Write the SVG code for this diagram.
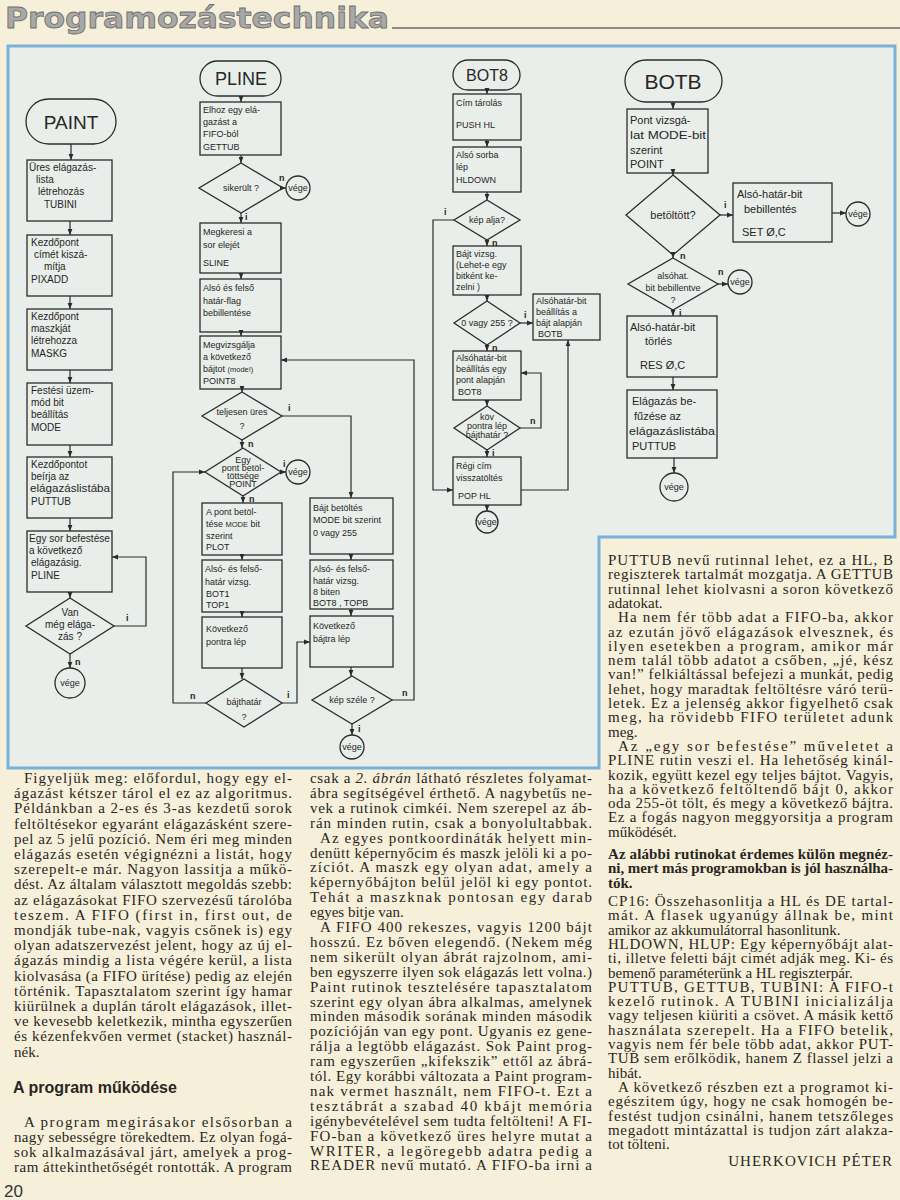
<svg xmlns="http://www.w3.org/2000/svg" width="900" height="1200" viewBox="0 0 900 1200">
<defs>
<marker id="ah" viewBox="0 0 10 10" refX="10" refY="5" markerWidth="6" markerHeight="6" markerUnits="userSpaceOnUse" orient="auto"><path d="M0,1 L10,5 L0,9 z" fill="#2b2b2b"/></marker>
<style>
.bx{fill:none;stroke:#2b2b2b;stroke-width:1.3}
.ln{fill:none;stroke:#2b2b2b;stroke-width:1.2;marker-end:url(#ah)}
.t{font-family:"Liberation Sans","DejaVu Sans",sans-serif;font-size:9px;fill:#262626}
.tp{font-family:"Liberation Sans","DejaVu Sans",sans-serif;font-size:10px;fill:#262626}
.tb{font-family:"Liberation Sans","DejaVu Sans",sans-serif;font-size:11px;fill:#262626}
.c{text-anchor:middle}
.lb{font-family:"Liberation Sans",sans-serif;font-size:9px;font-weight:bold;fill:#262626}
.ti{font-family:"Liberation Sans",sans-serif;fill:#262626;text-anchor:middle}
.body{font-family:"Liberation Serif","Times New Roman",serif;font-size:15px;fill:#2a2622}
.bold{font-weight:bold}
</style>
</defs>
<rect x="0" y="0" width="900" height="1200" fill="#f6f0da"/>
<!-- header -->
<text x="5" y="28" font-family="DejaVu Sans, sans-serif" font-weight="bold" font-size="28" fill="#a8a8a6" stroke="#707070" stroke-width="0.8" textLength="384" lengthAdjust="spacingAndGlyphs">Programozástechnika</text>
<line x1="392" y1="28" x2="900" y2="28" stroke="#8c8c8a" stroke-width="2.2"/>
<!-- panel -->
<path d="M8,46 H895 V537 H599 V768 H8 Z" fill="#e9eeea" stroke="#78b2d8" stroke-width="3"/>

<!-- PAINT -->
<g id="paint-start"><rect class="bx" x="26" y="99" width="90" height="45" rx="22.5"/><text class="ti" x="71" y="129" font-size="19">PAINT</text></g>
<g id="paint-tubini"><rect class="bx" x="27" y="160" width="85" height="61"/><text class="tp" x="29" y="171">Üres elágazás-</text><text class="tp" x="36" y="183">lista</text><text class="tp" x="38" y="195">létrehozás</text><text class="tp" x="44" y="208">TUBINI</text></g>
<g id="paint-pixadd"><rect class="bx" x="27" y="235" width="85" height="61"/><text class="tp" x="31" y="246">Kezdőpont</text><text class="tp" x="34" y="258">címét kiszá-</text><text class="tp" x="44" y="270">mítja</text><text class="tp" x="31" y="283">PIXADD</text></g>
<g id="paint-maskg"><rect class="bx" x="27" y="309" width="85" height="61"/><text class="tp" x="31" y="320">Kezdőpont</text><text class="tp" x="31" y="332">maszkját</text><text class="tp" x="31" y="344">létrehozza</text><text class="tp" x="31" y="357">MASKG</text></g>
<g id="paint-mode"><rect class="bx" x="27" y="383" width="85" height="62"/><text class="tp" x="31" y="394">Festési üzem-</text><text class="tp" x="31" y="406">mód bit</text><text class="tp" x="31" y="418">beállítás</text><text class="tp" x="31" y="431">MODE</text></g>
<g id="paint-puttub"><rect class="bx" x="27" y="457" width="85" height="61"/><text class="tp" x="31" y="468">Kezdőpontot</text><text class="tp" x="31" y="480">beírja az</text><text class="tp" x="30" y="492" textLength="80" lengthAdjust="spacingAndGlyphs">elágazáslistába</text><text class="tp" x="31" y="505">PUTTUB</text></g>
<g id="paint-pline"><rect class="bx" x="27" y="531" width="85" height="61"/><text class="tp" x="29" y="542" textLength="81" lengthAdjust="spacingAndGlyphs">Egy sor befestése</text><text class="tp" x="29" y="554">a következő</text><text class="tp" x="31" y="566">elágazásig.</text><text class="tp" x="31" y="579">PLINE</text></g>
<g id="paint-van"><path class="bx" d="M70,598 L114,626 L70,654 L26,626 Z"/><text class="tp c" x="70" y="616">Van</text><text class="tp c" x="70" y="628">még elága-</text><text class="tp c" x="70" y="640">zás ?</text></g>
<g id="paint-vege"><circle class="bx" cx="70" cy="683" r="15"/><text class="t c" x="70" y="686">vége</text></g>

<!-- PLINE -->
<g id="pline-start"><rect class="bx" x="200" y="61" width="81" height="35" rx="17.5"/><text class="ti" x="241" y="85" font-size="18">PLINE</text></g>
<g id="pline-gettub"><rect class="bx" x="200" y="102" width="81" height="53"/><text class="t" x="203" y="113">Elhoz egy elá-</text><text class="t" x="203" y="125">gazást a</text><text class="t" x="203" y="137" font-size="8">FIFO-ból</text><text class="t" x="203" y="150">GETTUB</text></g>
<g id="pline-sikerult"><path class="bx" d="M241,163 L283,188 L241,213 L199,188 Z"/><text class="t c" x="241" y="191">sikerült ?</text></g>
<g id="pline-vege1"><circle class="bx" cx="298" cy="188" r="12"/><text class="t c" x="298" y="191">vége</text></g>
<g id="pline-sline"><rect class="bx" x="200" y="223" width="81" height="50"/><text class="t" x="203" y="235">Megkeresi a</text><text class="t" x="203" y="248">sor elejét</text><text class="t" x="203" y="266">SLINE</text></g>
<g id="pline-flag"><rect class="bx" x="200" y="279" width="81" height="53"/><text class="t" x="203" y="291">Alsó és felső</text><text class="t" x="203" y="304">határ-flag</text><text class="t" x="203" y="316">bebillentése</text></g>
<g id="pline-point8"><rect class="bx" x="200" y="336" width="81" height="53"/><text class="t" x="203" y="348">Megvizsgálja</text><text class="t" x="203" y="360">a következő</text><text class="t" x="203" y="372">bájtot <tspan font-size="7.5">(mode!)</tspan></text><text class="t" x="203" y="384">POINT8</text></g>
<g id="pline-ures"><path class="bx" d="M242,392 L282,416 L242,440 L202,416 Z"/><text class="t c" x="242" y="415">teljesen üres</text><text class="t c" x="242" y="429">?</text></g>
<g id="pline-egypont"><path class="bx" d="M243,448 L281,472 L243,496 L205,472 Z"/><text class="t c" x="243" y="463" font-size="8">Egy</text><text class="t c" x="243" y="471" font-size="7.5">pont betöl-</text><text class="t c" x="243" y="479" font-size="7">töttsége</text><text class="t c" x="243" y="487" font-size="6.5">POINT</text></g>
<g id="pline-vege2"><circle class="bx" cx="298" cy="472" r="12"/><text class="t c" x="298" y="475">vége</text></g>
<g id="pline-plot"><rect class="bx" x="202" y="503" width="80" height="52"/><text class="t" x="206" y="515">A pont betöl-</text><text class="t" x="206" y="527">tése <tspan font-size="7.5">MODE</tspan> bit</text><text class="t" x="206" y="539">szerint</text><text class="t" x="206" y="550">PLOT</text></g>
<g id="pline-bot1"><rect class="bx" x="202" y="560" width="80" height="52"/><text class="t" x="205" y="572">Alsó- és felső-</text><text class="t" x="205" y="585">határ vizsg.</text><text class="t" x="206" y="597">BOT1</text><text class="t" x="206" y="608">TOP1</text></g>
<g id="pline-kovpont"><rect class="bx" x="202" y="617" width="80" height="51"/><text class="t" x="206" y="632">Következő</text><text class="t" x="206" y="645">pontra lép</text></g>
<g id="pline-bajthatar"><path class="bx" d="M244,679 L282,703 L244,727 L206,703 Z"/><text class="t c" x="244" y="705">bájthatár</text><text class="t c" x="244" y="720">?</text></g>
<g id="pline-bajtbet"><rect class="bx" x="310" y="498" width="83" height="56"/><text class="t" x="313" y="511">Bájt betöltés</text><text class="t" x="313" y="523" font-size="7.5">MODE bit szerint</text><text class="t" x="313" y="536">0 vagy 255</text></g>
<g id="pline-bot8"><rect class="bx" x="310" y="560" width="83" height="49"/><text class="t" x="313" y="572">Alsó- és felső-</text><text class="t" x="313" y="584">határ vizsg.</text><text class="t" x="313" y="595">8 biten</text><text class="t" x="313" y="606">BOT8 , TOPB</text></g>
<g id="pline-kovbajt"><rect class="bx" x="310" y="616" width="83" height="51"/><text class="t" x="313" y="629">Következő</text><text class="t" x="313" y="642">bájtra lép</text></g>
<g id="pline-kepszele"><path class="bx" d="M352,676 L392,700 L352,724 L312,700 Z"/><text class="t c" x="352" y="703">kép széle ?</text></g>
<g id="pline-vege3"><circle class="bx" cx="352" cy="747" r="12"/><text class="t c" x="352" y="750">vége</text></g>

<!-- BOT8 -->
<g id="bot8-start"><rect class="bx" x="453" y="60" width="67" height="30" rx="15"/><text class="ti" x="487" y="81" font-size="16">BOT8</text></g>
<g id="bot8-push"><rect class="bx" x="453" y="94" width="68" height="46"/><text class="t" x="456" y="106" font-size="8.5">Cím tárolás</text><text class="t" x="456" y="128" font-size="8">PUSH HL</text></g>
<g id="bot8-hldown"><rect class="bx" x="453" y="147" width="68" height="45"/><text class="t" x="456" y="158" font-size="8.5">Alsó sorba</text><text class="t" x="456" y="170" font-size="8.5">lép</text><text class="t" x="456" y="183" font-size="8">HLDOWN</text></g>
<g id="bot8-kepalja"><path class="bx" d="M487,200 L520,220 L487,240 L454,220 Z"/><text class="t c" x="487" y="223" font-size="8.5">kép alja?</text></g>
<g id="bot8-bajtvizsg"><rect class="bx" x="453" y="246" width="68" height="49"/><text class="t" x="456" y="257" font-size="8">Bájt vizsg.</text><text class="t" x="456" y="268" font-size="8">(Lehet-e egy</text><text class="t" x="456" y="279" font-size="8">bitként ke-</text><text class="t" x="456" y="290" font-size="8">zelni )</text></g>
<g id="bot8-0v255"><path class="bx" d="M487,301 L520,323 L487,345 L454,323 Z"/><text class="t c" x="487" y="326" font-size="8">0 vagy 255 ?</text></g>
<g id="bot8-botb"><rect class="bx" x="533" y="294" width="67" height="46"/><text class="t" x="536" y="304" font-size="8">Alsóhatár-bit</text><text class="t" x="536" y="315" font-size="8">beállítás a</text><text class="t" x="536" y="326" font-size="8">bájt alapján</text><text class="t" x="538" y="337" font-size="8">BOTB</text></g>
<g id="bot8-bot8"><rect class="bx" x="453" y="351" width="68" height="49"/><text class="t" x="456" y="361" font-size="8">Alsóhatár-bit</text><text class="t" x="456" y="372" font-size="8">beállítás egy</text><text class="t" x="456" y="383" font-size="8">pont alapján</text><text class="t" x="458" y="395" font-size="8">BOT8</text></g>
<g id="bot8-kov"><path class="bx" d="M487,406 L520,428 L487,450 L454,428 Z"/><text class="t c" x="487" y="420" font-size="7">köv</text><text class="t c" x="487" y="429" font-size="7">pontra lép</text><text class="t c" x="487" y="438" font-size="7">bájthatár ?</text></g>
<g id="bot8-pop"><rect class="bx" x="453" y="457" width="68" height="48"/><text class="t" x="456" y="469" font-size="8.5">Régi cím</text><text class="t" x="456" y="481" font-size="8.5">visszatöltés</text><text class="t" x="458" y="499" font-size="8">POP HL</text></g>
<g id="bot8-vege"><circle class="bx" cx="487" cy="522" r="11"/><text class="t c" x="487" y="525" font-size="8">vége</text></g>

<!-- BOTB -->
<g id="botb-start"><rect class="bx" x="625" y="60" width="97" height="42" rx="21"/><text class="ti" x="673" y="89" font-size="21">BOTB</text></g>
<g id="botb-point"><rect class="bx" x="627" y="109" width="81" height="64"/><text class="tb" x="630" y="124">Pont vizsgá-</text><text class="tb" x="630" y="139" textLength="76" lengthAdjust="spacingAndGlyphs">lat MODE-bit</text><text class="tb" x="630" y="154">szerint</text><text class="tb" x="630" y="168">POINT</text></g>
<g id="botb-betoltott"><path class="bx" d="M673,175 L720,215 L673,255 L626,215 Z"/><text class="tb c" x="673" y="219">betöltött?</text></g>
<g id="botb-set"><rect class="bx" x="733" y="183" width="99" height="59"/><text class="tb" x="737" y="198">Alsó-határ-bit</text><text class="tb" x="744" y="213">bebillentés</text><text class="tb" x="742" y="236">SET Ø,C</text></g>
<g id="botb-vege1"><circle class="bx" cx="858" cy="214" r="12"/><text class="t c" x="858" y="217">vége</text></g>
<g id="botb-alsohat"><path class="bx" d="M673,258 L718,284 L673,310 L628,284 Z"/><text class="t c" x="673" y="279" font-size="9.5">alsóhat.</text><text class="t c" x="673" y="291">bit bebillentve</text><text class="t c" x="673" y="303">?</text></g>
<g id="botb-vege2"><circle class="bx" cx="740" cy="282" r="12"/><text class="t c" x="740" y="285">vége</text></g>
<g id="botb-res"><rect class="bx" x="627" y="316" width="90" height="61"/><text class="tb" x="630" y="331">Alsó-határ-bit</text><text class="tb" x="645" y="345">törlés</text><text class="tb" x="640" y="369">RES Ø,C</text></g>
<g id="botb-puttub"><rect class="bx" x="627" y="390" width="90" height="68"/><text class="tb" x="632" y="405">Elágazás be-</text><text class="tb" x="634" y="420">fűzése az</text><text class="tb" x="629" y="435" textLength="86" lengthAdjust="spacingAndGlyphs">elágazáslistába</text><text class="tb" x="632" y="450">PUTTUB</text></g>
<g id="botb-vege3"><circle class="bx" cx="674" cy="487" r="14"/><text class="t c" x="674" y="490">vége</text></g>

<!-- connectors -->
<g id="connectors">
<path class="ln" d="M71,144 V160"/><path class="ln" d="M70,221 V235"/><path class="ln" d="M70,296 V309"/><path class="ln" d="M70,370 V383"/><path class="ln" d="M70,445 V457"/><path class="ln" d="M70,518 V531"/><path class="ln" d="M70,592 V598"/>
<path class="ln" d="M114,626 H146 V557 H112"/><path class="ln" d="M70,654 V668"/>
<path class="ln" d="M241,96 V102"/><path class="ln" d="M241,155 V163"/><path class="ln" d="M283,188 H286"/><path class="ln" d="M241,213 V223"/><path class="ln" d="M241,273 V279"/><path class="ln" d="M241,332 V336"/><path class="ln" d="M242,389 V392"/>
<path class="ln" d="M282,416 H351 V498"/><path class="ln" d="M242,440 V448"/><path class="ln" d="M281,472 H286"/><path class="ln" d="M243,496 V503"/><path class="ln" d="M242,555 V560"/><path class="ln" d="M242,612 V617"/><path class="ln" d="M242,668 V679"/>
<path class="ln" d="M206,703 H173 V472 H205"/><path class="ln" d="M282,703 H297 V642 H310"/>
<path class="ln" d="M351,554 V560"/><path class="ln" d="M351,609 V616"/><path class="ln" d="M351,667 V676"/><path class="ln" d="M392,700 H414 V360 H281"/><path class="ln" d="M352,724 V735"/>
<path class="ln" d="M487,90 V94"/><path class="ln" d="M487,140 V147"/><path class="ln" d="M487,192 V200"/><path class="ln" d="M454,220 H433 V490 H453"/><path class="ln" d="M487,240 V246"/><path class="ln" d="M487,295 V301"/><path class="ln" d="M520,323 H533"/>
<path class="ln" d="M521,490 H568 V340"/><path class="ln" d="M487,345 V351"/><path class="ln" d="M487,400 V406"/><path class="ln" d="M520,428 H541 V373 H521"/><path class="ln" d="M487,450 V457"/><path class="ln" d="M487,505 V511"/>
<path class="ln" d="M673,102 V109"/><path class="ln" d="M673,173 V175"/><path class="ln" d="M720,215 H733"/><path class="ln" d="M832,213 H846"/><path class="ln" d="M673,254 V258"/><path class="ln" d="M718,284 H728"/><path class="ln" d="M673,310 V316"/><path class="ln" d="M673,377 V390"/><path class="ln" d="M674,458 V473" stroke-width="2"/>
</g>
<g id="labels">
<text class="lb" x="126" y="621">i</text><text class="lb" x="75" y="665">n</text>
<text class="lb" x="279" y="181">n</text><text class="lb" x="245" y="220">i</text><text class="lb" x="288" y="411">i</text><text class="lb" x="248" y="447">n</text><text class="lb" x="283" y="467">i</text><text class="lb" x="249" y="502">n</text><text class="lb" x="190" y="699">n</text><text class="lb" x="287" y="698">i</text><text class="lb" x="402" y="696">n</text><text class="lb" x="358" y="732">i</text>
<text class="lb" x="444" y="215">i</text><text class="lb" x="492" y="246">n</text><text class="lb" x="524" y="318">i</text><text class="lb" x="492" y="351">n</text><text class="lb" x="530" y="424">n</text><text class="lb" x="492" y="456">i</text>
<text class="lb" x="724" y="208">i</text><text class="lb" x="680" y="259" font-size="10">n</text><text class="lb" x="718" y="275">n</text><text class="lb" x="679" y="316">i</text>
</g>

<!-- left column -->
<g id="col-left" class="body">
<text x="24" y="783" textLength="268" lengthAdjust="spacing">Figyeljük meg: előfordul, hogy egy el-</text>
<text x="14" y="798.2" textLength="278" lengthAdjust="spacing">ágazást kétszer tárol el ez az algoritmus.</text>
<text x="14" y="813.4" textLength="278" lengthAdjust="spacing">Példánkban a 2-es és 3-as kezdetű sorok</text>
<text x="14" y="828.6" textLength="278" lengthAdjust="spacing">feltöltésekor egyaránt elágazásként szere-</text>
<text x="14" y="843.8" textLength="278" lengthAdjust="spacing">pel az 5 jelű pozíció. Nem éri meg minden</text>
<text x="14" y="859" textLength="278" lengthAdjust="spacing">elágazás esetén végignézni a listát, hogy</text>
<text x="14" y="874.2" textLength="278" lengthAdjust="spacing">szerepelt-e már. Nagyon lassitja a műkö-</text>
<text x="14" y="889.4" textLength="278" lengthAdjust="spacing">dést. Az általam választott megoldás szebb:</text>
<text x="14" y="904.6" textLength="278" lengthAdjust="spacing">az elágazásokat FIFO szervezésű tárolóba</text>
<text x="14" y="919.8" textLength="278" lengthAdjust="spacing">teszem. A FIFO (first in, first out, de</text>
<text x="14" y="935" textLength="278" lengthAdjust="spacing">mondják tube-nak, vagyis csőnek is) egy</text>
<text x="14" y="950.2" textLength="278" lengthAdjust="spacing">olyan adatszervezést jelent, hogy az új el-</text>
<text x="14" y="965.4" textLength="278" lengthAdjust="spacing">ágazás mindig a lista végére kerül, a lista</text>
<text x="14" y="980.6" textLength="278" lengthAdjust="spacing">kiolvasása (a FIFO ürítése) pedig az elején</text>
<text x="14" y="995.8" textLength="278" lengthAdjust="spacing">történik. Tapasztalatom szerint így hamar</text>
<text x="14" y="1011" textLength="278" lengthAdjust="spacing">kiürülnek a duplán tárolt elágazások, illet-</text>
<text x="14" y="1026.2" textLength="278" lengthAdjust="spacing">ve kevesebb keletkezik, mintha egyszerűen</text>
<text x="14" y="1041.4" textLength="278" lengthAdjust="spacing">és kézenfekvően vermet (stacket) használ-</text>
<text x="14" y="1056.6">nék.</text>
<text x="13" y="1093" font-family="Liberation Sans, sans-serif" font-weight="bold" font-size="16">A program működése</text>
<text x="24" y="1127" textLength="268" lengthAdjust="spacing">A program megirásakor elsősorban a</text>
<text x="14" y="1142" textLength="278" lengthAdjust="spacing">nagy sebességre törekedtem. Ez olyan fogá-</text>
<text x="14" y="1157" textLength="278" lengthAdjust="spacing">sok alkalmazásával járt, amelyek a prog-</text>
<text x="14" y="1172" textLength="278" lengthAdjust="spacing">ram áttekinthetőségét rontották. A program</text>
</g>
<text x="4" y="1197" font-family="Liberation Sans, sans-serif" font-size="17" fill="#333">20</text>

<!-- middle column -->
<g id="col-middle" class="body">
<text x="310" y="783" textLength="282" lengthAdjust="spacing">csak a <tspan font-style="italic">2. ábrán</tspan> látható részletes folyamat-</text>
<text x="310" y="797.9" textLength="282" lengthAdjust="spacing">ábra segítségével érthető. A nagybetűs ne-</text>
<text x="310" y="812.8" textLength="282" lengthAdjust="spacing">vek a rutinok cimkéi. Nem szerepel az áb-</text>
<text x="310" y="827.7" textLength="282" lengthAdjust="spacing">rán minden rutin, csak a bonyolultabbak.</text>
<text x="320" y="842.6" textLength="272" lengthAdjust="spacing">Az egyes pontkoordináták helyett min-</text>
<text x="310" y="857.5" textLength="282" lengthAdjust="spacing">denütt képernyőcim és maszk jelöli ki a po-</text>
<text x="310" y="872.4" textLength="282" lengthAdjust="spacing">zíciót. A maszk egy olyan adat, amely a</text>
<text x="310" y="887.3" textLength="282" lengthAdjust="spacing">képernyőbájton belül jelöl ki egy pontot.</text>
<text x="310" y="902.2" textLength="282" lengthAdjust="spacing">Tehát a maszknak pontosan egy darab</text>
<text x="310" y="917.1">egyes bitje van.</text>
<text x="320" y="932" textLength="272" lengthAdjust="spacing">A FIFO 400 rekeszes, vagyis 1200 bájt</text>
<text x="310" y="946.9" textLength="282" lengthAdjust="spacing">hosszú. Ez bőven elegendő. (Nekem még</text>
<text x="310" y="961.8" textLength="282" lengthAdjust="spacing">nem sikerült olyan ábrát rajzolnom, ami-</text>
<text x="310" y="976.7" textLength="282" lengthAdjust="spacing">ben egyszerre ilyen sok elágazás lett volna.)</text>
<text x="310" y="991.6" textLength="282" lengthAdjust="spacing">Paint rutinok tesztelésére tapasztalatom</text>
<text x="310" y="1006.5" textLength="282" lengthAdjust="spacing">szerint egy olyan ábra alkalmas, amelynek</text>
<text x="310" y="1021.4" textLength="282" lengthAdjust="spacing">minden második sorának minden második</text>
<text x="310" y="1036.3" textLength="282" lengthAdjust="spacing">pozícióján van egy pont. Ugyanis ez gene-</text>
<text x="310" y="1051.2" textLength="282" lengthAdjust="spacing">rálja a legtöbb elágazást. Sok Paint prog-</text>
<text x="310" y="1066.1" textLength="282" lengthAdjust="spacing">ram egyszerűen „kifekszik” ettől az ábrá-</text>
<text x="310" y="1081" textLength="282" lengthAdjust="spacing">tól. Egy korábbi változata a Paint program-</text>
<text x="310" y="1095.9" textLength="282" lengthAdjust="spacing">nak vermet használt, nem FIFO-t. Ezt a</text>
<text x="310" y="1110.8" textLength="282" lengthAdjust="spacing">tesztábrát a szabad 40 kbájt memória</text>
<text x="310" y="1125.7" textLength="282" lengthAdjust="spacing">igénybevételével sem tudta feltölteni! A FI-</text>
<text x="310" y="1140.6" textLength="282" lengthAdjust="spacing">FO-ban a következő üres helyre mutat a</text>
<text x="310" y="1155.5" textLength="282" lengthAdjust="spacing">WRITER, a legöregebb adatra pedig a</text>
<text x="310" y="1170.4" textLength="282" lengthAdjust="spacing">READER nevű mutató. A FIFO-ba irni a</text>
</g>

<!-- right column -->
<g id="col-right" class="body">
<text x="608" y="565" textLength="285" lengthAdjust="spacing">PUTTUB nevű rutinnal lehet, ez a HL, B</text>
<text x="608" y="579.3" textLength="285" lengthAdjust="spacing">regiszterek tartalmát mozgatja. A GETTUB</text>
<text x="608" y="593.6" textLength="285" lengthAdjust="spacing">rutinnal lehet kiolvasni a soron következő</text>
<text x="608" y="607.9">adatokat.</text>
<text x="618" y="622.2" textLength="275" lengthAdjust="spacing">Ha nem fér több adat a FIFO-ba, akkor</text>
<text x="608" y="636.5" textLength="285" lengthAdjust="spacing">az ezután jövő elágazások elvesznek, és</text>
<text x="608" y="650.8" textLength="285" lengthAdjust="spacing">ilyen esetekben a program, amikor már</text>
<text x="608" y="665.1" textLength="285" lengthAdjust="spacing">nem talál több adatot a csőben, „jé, kész</text>
<text x="608" y="679.4" textLength="285" lengthAdjust="spacing">van!” felkiáltással befejezi a munkát, pedig</text>
<text x="608" y="693.7" textLength="285" lengthAdjust="spacing">lehet, hogy maradtak feltöltésre váró terü-</text>
<text x="608" y="708" textLength="285" lengthAdjust="spacing">letek. Ez a jelenség akkor figyelhető csak</text>
<text x="608" y="722.3" textLength="285" lengthAdjust="spacing">meg, ha rövidebb FIFO területet adunk</text>
<text x="608" y="736.6">meg.</text>
<text x="618" y="750.9" textLength="275" lengthAdjust="spacing">Az „egy sor befestése” műveletet a</text>
<text x="608" y="765.2" textLength="285" lengthAdjust="spacing">PLINE rutin veszi el. Ha lehetőség kinál-</text>
<text x="608" y="779.5" textLength="285" lengthAdjust="spacing">kozik, együtt kezel egy teljes bájtot. Vagyis,</text>
<text x="608" y="793.8" textLength="285" lengthAdjust="spacing">ha a következő feltöltendő bájt 0, akkor</text>
<text x="608" y="808.1" textLength="285" lengthAdjust="spacing">oda 255-öt tölt, és megy a következő bájtra.</text>
<text x="608" y="822.4" textLength="285" lengthAdjust="spacing">Ez a fogás nagyon meggyorsitja a program</text>
<text x="608" y="836.7">működését.</text>
<text class="bold" x="608" y="859" textLength="285" lengthAdjust="spacing">Az alábbi rutinokat érdemes külön megnéz-</text>
<text class="bold" x="608" y="873.3" textLength="285" lengthAdjust="spacing">ni, mert más programokban is jól használha-</text>
<text class="bold" x="608" y="887.6">tók.</text>
<text x="608" y="906" textLength="285" lengthAdjust="spacing">CP16: Összehasonlitja a HL és DE tartal-</text>
<text x="608" y="920.3" textLength="285" lengthAdjust="spacing">mát. A flasek ugyanúgy állnak be, mint</text>
<text x="608" y="934.6">amikor az akkumulátorral hasonlitunk.</text>
<text x="608" y="948.9" textLength="285" lengthAdjust="spacing">HLDOWN, HLUP: Egy képernyőbájt alat-</text>
<text x="608" y="963.2" textLength="285" lengthAdjust="spacing">ti, illetve feletti bájt cimét adják meg. Ki- és</text>
<text x="608" y="977.5">bemenő paraméterünk a HL regiszterpár.</text>
<text x="608" y="991.8" textLength="285" lengthAdjust="spacing">PUTTUB, GETTUB, TUBINI: A FIFO-t</text>
<text x="608" y="1006.1" textLength="285" lengthAdjust="spacing">kezelő rutinok. A TUBINI inicializálja</text>
<text x="608" y="1020.4" textLength="285" lengthAdjust="spacing">vagy teljesen kiüriti a csövet. A másik kettő</text>
<text x="608" y="1034.7" textLength="285" lengthAdjust="spacing">használata szerepelt. Ha a FIFO betelik,</text>
<text x="608" y="1049" textLength="285" lengthAdjust="spacing">vagyis nem fér bele több adat, akkor PUT-</text>
<text x="608" y="1063.3" textLength="285" lengthAdjust="spacing">TUB sem erőlködik, hanem Z flassel jelzi a</text>
<text x="608" y="1077.6">hibát.</text>
<text x="618" y="1091.9" textLength="275" lengthAdjust="spacing">A következő részben ezt a programot ki-</text>
<text x="608" y="1106.2" textLength="285" lengthAdjust="spacing">egészitem úgy, hogy ne csak homogén be-</text>
<text x="608" y="1120.5" textLength="285" lengthAdjust="spacing">festést tudjon csinálni, hanem tetszőleges</text>
<text x="608" y="1134.8" textLength="285" lengthAdjust="spacing">megadott mintázattal is tudjon zárt alakza-</text>
<text x="608" y="1149.1">tot tölteni.</text>
<text x="893" y="1166" text-anchor="end" letter-spacing="1">UHERKOVICH PÉTER</text>
</g>
</svg>
